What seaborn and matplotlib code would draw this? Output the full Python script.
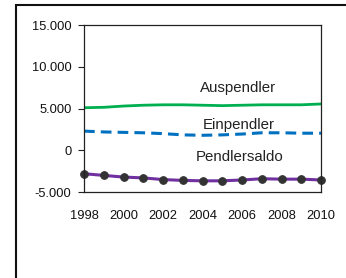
import matplotlib
matplotlib.use("Agg")
import matplotlib.pyplot as plt
import matplotlib.patches as mpatches
from matplotlib.ticker import FuncFormatter
import pandas as pd
import seaborn as sns

# ── Data ─────────────────────────────────────────────────────────────────────
years = list(range(1998, 2011))
auspendler = [5100, 5150, 5300, 5400, 5450, 5450, 5400, 5350, 5400, 5450, 5450, 5450, 5550]
einpendler = [2300, 2200, 2150, 2100, 2000, 1850, 1800, 1850, 1950, 2100, 2100, 2050, 2050]
pendlersaldo = [-2800, -3000, -3200, -3300, -3500, -3600, -3650, -3650, -3550, -3400, -3450, -3450, -3550]

series_names = ["Auspendler", "Einpendler", "Pendlersaldo"]
yticks = [-5000, 0, 5000, 10000, 15000]

df = pd.DataFrame({
    "Jahr": years * 3,
    "Wert": auspendler + einpendler + pendlersaldo,
    "Reihe": [n for n in series_names for _ in years],
})

# ── Style ────────────────────────────────────────────────────────────────────
sns.set_style("white")
plt.rcParams["font.family"] = ["Liberation Sans", "DejaVu Sans"]

fig = plt.figure(figsize=(3.46, 2.78), dpi=100)
ax = fig.add_axes([0.2428, 0.309, 0.685, 0.601])

palette = {"Auspendler": "#00B050", "Einpendler": "#0070C0", "Pendlersaldo": "#7030A0"}
sns.lineplot(data=df[df["Reihe"] == "Auspendler"], x="Jahr", y="Wert",
             color=palette["Auspendler"], linewidth=2.0, ax=ax)
sns.lineplot(data=df[df["Reihe"] == "Einpendler"], x="Jahr", y="Wert",
             color=palette["Einpendler"], linewidth=2.2, ax=ax)
ax.lines[-1].set_dashes([3.5, 2])
sns.lineplot(data=df[df["Reihe"] == "Pendlersaldo"], x="Jahr", y="Wert",
             color=palette["Pendlersaldo"], linewidth=2.2, ax=ax,
             marker="o", markersize=5.5, markerfacecolor="#333333",
             markeredgecolor="#333333", clip_on=False)

ax.set_xlim(1998, 2010)
ax.set_ylim(-5000, 15000)
ax.set_xticks(years[::2])
ax.set_yticks(yticks)
ax.yaxis.set_major_formatter(FuncFormatter(lambda v, p: f"{int(v):,}".replace(",", ".")))
ax.set_xlabel("")
ax.set_ylabel("")
ax.tick_params(axis="y", direction="out", length=4, width=0.8, color="#222222",
               labelsize=9.3, pad=5, left=True, labelcolor="#111111")
ax.tick_params(axis="x", length=0, labelsize=9.3, pad=13, labelcolor="#111111")
for s in ax.spines.values():
    s.set_color("#222222")
    s.set_linewidth(0.9)

ax.text(2005.8, 7500, "Auspendler", ha="center", va="center", fontsize=10.8, color="#222222")
ax.text(2005.85, 3050, "Einpendler", ha="center", va="center", fontsize=10.8, color="#222222")
ax.text(2005.9, -800, "Pendlersaldo", ha="center", va="center", fontsize=10.8, color="#222222")

# outer chart frame (partly cropped at right/bottom)
frame = mpatches.Rectangle((16 / 346, -0.05), 1.2, 1 - 5 / 278 + 0.05,
                           transform=fig.transFigure, fill=False,
                           edgecolor="#111111", linewidth=1.5, clip_on=False)
fig.patches.append(frame)

fig.savefig("out.png", dpi=100)
